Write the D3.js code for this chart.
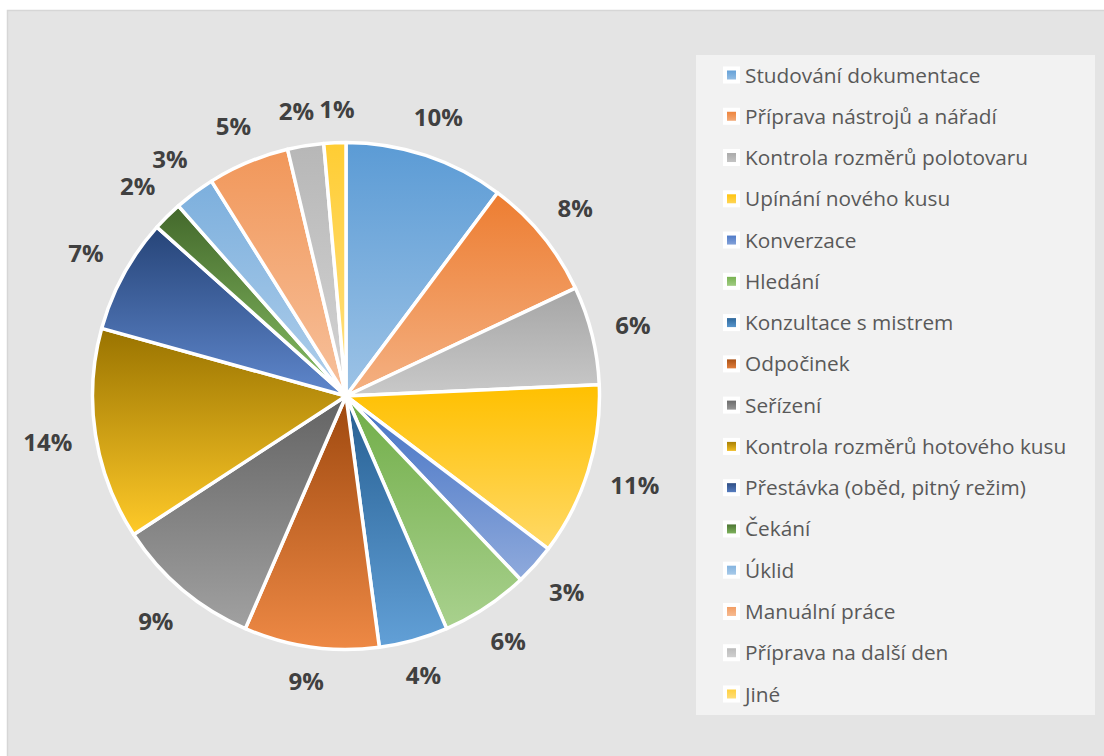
<!DOCTYPE html>
<html>
<head>
<meta charset="utf-8">
<script src="https://cdn.jsdelivr.net/npm/d3@7"></script>
<style>
  html, body { margin: 0; padding: 0; background: #ffffff; }
  svg { display: block; }
</style>
</head>
<body>
<svg id="chart" width="1104" height="756"></svg>
<script>
// ---- data ----
const categories = [
  "Studování dokumentace",
  "Příprava nástrojů a nářadí",
  "Kontrola rozměrů polotovaru",
  "Upínání nového kusu",
  "Konverzace",
  "Hledání",
  "Konzultace s mistrem",
  "Odpočinek",
  "Seřízení",
  "Kontrola rozměrů hotového kusu",
  "Přestávka (oběd, pitný režim)",
  "Čekání",
  "Úklid",
  "Manuální práce",
  "Příprava na další den",
  "Jiné"
];
const values = [10.2, 7.8, 6.3, 11.0, 2.6, 5.6, 4.4, 8.6, 9.3, 13.5, 7.3, 1.9, 2.6, 5.2, 2.3, 1.4];
const palette = ["#5B9BD5","#ED7D31","#A5A5A5","#FFC000","#4472C4","#70AD47",
                 "#255E91","#9E480E","#636363","#997300","#264478","#43682B",
                 "#7CAFDD","#F1975A","#B7B7B7","#FFCD33"];

// ---- layout ----
const cx = 346, cy = 396, R = 255;
const svg = d3.select("#chart");

// background panel
svg.append("rect").attr("x", 7.5).attr("y", 10.5).attr("width", 1120).attr("height", 770)
  .attr("fill", "#e4e4e4").attr("stroke", "#d6d6d6").attr("stroke-width", 1.5);

// gradients
const defs = svg.append("defs");
function tint(c) {
  const h = d3.hsl(c);
  h.l = h.l + (1 - h.l) * 0.4;
  return h.formatHex();
}
palette.forEach((c, i) => {
  const g = defs.append("linearGradient").attr("id", "g" + i)
    .attr("x1", 0).attr("y1", 0).attr("x2", 0).attr("y2", 1);
  g.append("stop").attr("offset", "0%").attr("stop-color", c);
  g.append("stop").attr("offset", "100%").attr("stop-color", tint(c));
});

const color = d3.scaleOrdinal().domain(categories).range(palette.map((c, i) => "url(#g" + i + ")"));
const total = d3.sum(values);
const pct = d3.format(".0%");

const pie = d3.pie().sort(null).value(d => d.v);
const data = categories.map((c, i) => ({ c, v: values[i] }));
const arcs = pie(data);
const arc = d3.arc().innerRadius(0).outerRadius(R - 1.5);

const g = svg.append("g").attr("transform", `translate(${cx},${cy})`);
g.selectAll("path.slice").data(arcs).join("path")
  .attr("class", "slice")
  .attr("d", arc)
  .attr("fill", d => color(d.data.c))
  .attr("stroke", "#ffffff")
  .attr("stroke-width", 3.5)
  .attr("stroke-linejoin", "round");

// labels
const labels = g.selectAll("text.lbl").data(arcs).join("text")
  .attr("class", "lbl")
  .attr("text-anchor", "middle")
  .attr("dy", "0.35em")
  .style("font-family", "'Open Sans', sans-serif")
  .style("font-weight", "700")
  .style("font-size", "24px")
  .attr("fill", "#404040")
  .text(d => pct(d.data.v / total));

const LH = 20, PAD = 21;
const info = [];
labels.each(function(d) {
  info.push({ el: this, w: this.getComputedTextLength(), a: (d.startAngle + d.endAngle) / 2 });
});
function place(o) {
  const s = Math.sin(o.a), c = Math.cos(o.a);
  const D = R + PAD + Math.abs(o.w / 2 * s) + Math.abs(LH / 2 * c);
  o.x = D * s; o.y = -D * c;
}
info.forEach(place);
// simple overlap relaxation between neighbouring labels
for (let it = 0; it < 200; it++) {
  let moved = false;
  for (let i = 0; i < info.length; i++) {
    const p = info[i], q = info[(i + 1) % info.length];
    const ox = (p.w + q.w) / 2 + 4 - Math.abs(p.x - q.x);
    const oy = LH + 2 - Math.abs(p.y - q.y);
    if (ox > 0 && oy > 0) {
      p.a -= 0.003; q.a += 0.003;
      place(p); place(q); moved = true;
    }
  }
  if (!moved) break;
}
info.forEach(o => d3.select(o.el).attr("x", o.x).attr("y", o.y));

// legend
const lx = 696, ly = 55, lw = 399, lh = 660;
svg.append("rect").attr("x", lx).attr("y", ly).attr("width", lw).attr("height", lh).attr("fill", "#f2f2f2");

const rowY = d3.scalePoint().domain(categories).range([75, 694]);
const leg = svg.append("g").selectAll("g").data(categories).join("g")
  .attr("transform", d => `translate(0,${rowY(d)})`);
leg.append("rect").attr("x", 725).attr("y", -6.5).attr("width", 13).attr("height", 13)
  .attr("fill", d => color(d)).attr("stroke", "#ffffff").attr("stroke-width", 4);
leg.append("text").attr("x", 745).attr("dy", "0.36em")
  .style("font-family", "'Open Sans', sans-serif")
  .style("font-size", "20.8px")
  .attr("fill", "#595959")
  .text(d => d);
</script>
</body>
</html>
